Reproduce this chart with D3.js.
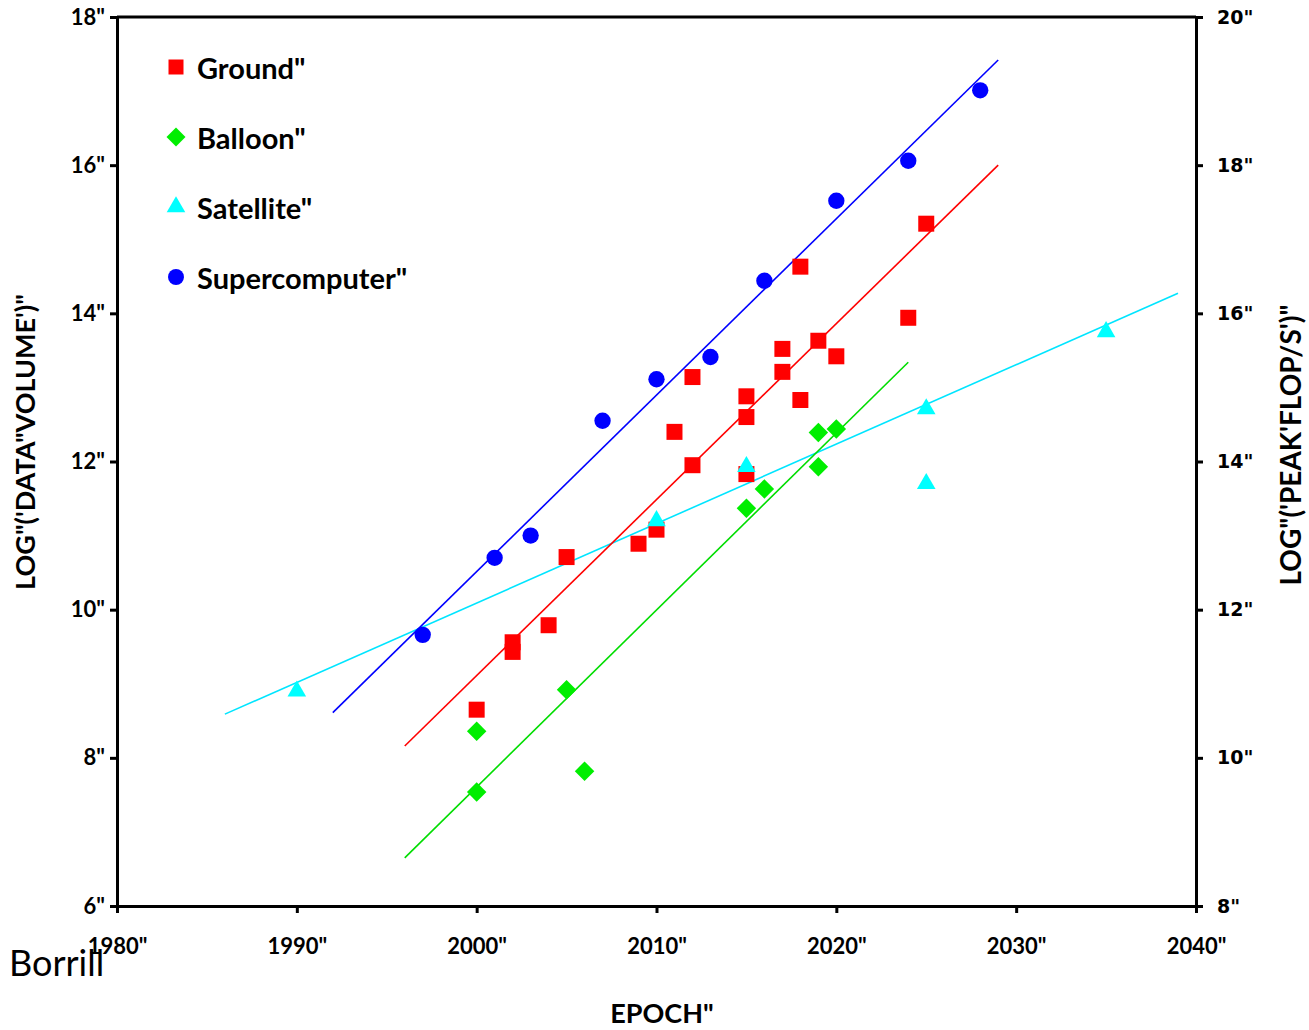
<!DOCTYPE html>
<html><head><meta charset="utf-8">
<script src="https://cdn.jsdelivr.net/npm/d3@7"></script>
<style>
body{margin:0;background:#fff;}
text{font-family:Lato,"Open Sans",sans-serif;}
</style></head>
<body><svg id="c" width="1309" height="1030"></svg>
<script>
// ---- data ----
const xTicks = [1980,1990,2000,2010,2020,2030,2040];
const yLeftTicks = [6,8,10,12,14,16,18];
const yRightTicks = [8,10,12,14,16,18,20];
const seriesNames = ["Ground","Balloon","Satellite","Supercomputer"];

const groundYears  = [2000,2002,2002,2004,2005,2009,2010,2011,2012,2012,2015,2015,2015,2017,2017,2018,2018,2019,2020,2024,2025];
const groundValues = [8.65,9.56,9.43,9.79,10.71,10.89,11.08,12.40,11.95,13.14,11.83,12.60,12.88,13.21,13.52,12.83,14.63,13.63,13.42,13.94,15.21];
const groundFitYears = [1996,2029];
const groundFitValues = [8.16,16.0];

const balloonYears  = [2000,2000,2005,2006,2015,2016,2019,2019,2020];
const balloonValues = [8.36,7.54,8.92,7.82,11.37,11.63,11.93,12.39,12.44];
const balloonFitYears = [1996,2024];
const balloonFitValues = [6.65,13.34];

const satelliteYears  = [1990,2010,2015,2025,2025,2035];
const satelliteValues = [8.90,11.20,11.93,12.71,11.70,13.75];
const satelliteFitYears = [1986,2039];
const satelliteFitValues = [8.59,14.27];

// supercomputer on right axis (log peak flop/s)
const superYears  = [1997,2001,2003,2007,2010,2013,2016,2020,2024,2028];
const superValues = [11.66,12.70,13.00,14.55,15.11,15.41,16.44,17.52,18.06,19.01];
const superFitYears = [1992,2029];
const superFitValues = [10.61,19.42];

// ---- layout ----
const svg = d3.select("#c");
const L=117, R=1196, T=17, B=906;
const x = d3.scaleLinear().domain([1980,2040]).range([L,R]);
const yL = d3.scaleLinear().domain([6,18]).range([B,T]);
const yR = d3.scaleLinear().domain([8,20]).range([B,T]);

const colors = {Ground:"#ff0000",Balloon:"#00ee00",Satellite:"#00ffff",Supercomputer:"#0000ff"};
const lineColors = {Ground:"#ff0000",Balloon:"#00dd00",Satellite:"#00e5ff",Supercomputer:"#0000ff"};

// top border
svg.append("line").attr("x1",L).attr("x2",R).attr("y1",T).attr("y2",T).attr("stroke","#000").attr("stroke-width",3);

function styleAxis(g,fontFamily,size){
  g.select(".domain").attr("stroke","#000").attr("stroke-width",3);
  g.selectAll(".tick line").attr("stroke","#000").attr("stroke-width",3);
  g.selectAll(".tick text").attr("fill","#000").style("font-family",fontFamily).style("font-size",size+"px").style("font-weight","700");
}
const fmtQ = d => d + '"';

const gx = svg.append("g").attr("transform",`translate(0,${B})`)
  .call(d3.axisBottom(x).tickValues(xTicks).tickFormat(fmtQ).tickSize(7).tickSizeOuter(0).tickPadding(25));
styleAxis(gx,"Lato",22);

const gl = svg.append("g").attr("transform",`translate(${L},0)`)
  .call(d3.axisLeft(yL).tickValues(yLeftTicks).tickFormat(fmtQ).tickSize(7).tickSizeOuter(0).tickPadding(5));
styleAxis(gl,"Lato",22);

const gr = svg.append("g").attr("transform",`translate(${R},0)`)
  .call(d3.axisRight(yR).tickValues(yRightTicks).tickFormat(fmtQ).tickSize(7).tickSizeOuter(0).tickPadding(14));
styleAxis(gr,"'DejaVu Sans'",19);

// fit lines
const line = (ys) => d3.line().x(d=>x(d[0])).y(d=>ys(d[1]));
function fit(years,vals,ys,name){
  svg.append("path").datum(years.map((yr,i)=>[yr,vals[i]]))
    .attr("d",line(ys)).attr("fill","none").attr("stroke",lineColors[name]).attr("stroke-width",1.6);
}
fit(satelliteFitYears,satelliteFitValues,yL,"Satellite");
fit(balloonFitYears,balloonFitValues,yL,"Balloon");
fit(groundFitYears,groundFitValues,yL,"Ground");
fit(superFitYears,superFitValues,yR,"Supercomputer");

const shapes = {Ground:d3.symbolSquare,Balloon:d3.symbolSquare,Satellite:d3.symbolTriangle,Supercomputer:d3.symbolCircle};
const rot = {Ground:0,Balloon:45,Satellite:0,Supercomputer:0};
const sizes = {Ground:256,Balloon:190,Satellite:150,Supercomputer:210};
function pts(years,vals,ys,name){
  svg.append("g").selectAll("path").data(years.map((yr,i)=>[yr,vals[i]])).join("path")
    .attr("d",d3.symbol().type(shapes[name]).size(sizes[name]))
    .attr("transform",d=>`translate(${x(d[0])},${ys(d[1])}) rotate(${rot[name]})`)
    .attr("fill",colors[name]);
}
pts(groundYears,groundValues,yL,"Ground");
pts(balloonYears,balloonValues,yL,"Balloon");
pts(satelliteYears,satelliteValues,yL,"Satellite");
pts(superYears,superValues,yR,"Supercomputer");

// legend
const legendSizes = {Ground:225,Balloon:180,Satellite:150,Supercomputer:200};
const lg = svg.append("g");
seriesNames.forEach((n,i)=>{
  const cy = 67 + i*70;
  lg.append("path").attr("d",d3.symbol().type(shapes[n]).size(legendSizes[n]))
    .attr("transform",`translate(176,${cy}) rotate(${rot[n]})`).attr("fill",colors[n]);
  lg.append("text").attr("x",197).attr("y",cy+12).text(n+'"')
    .style("font-size","29px").style("font-weight","700").attr("fill","#000");
});

// axis titles
svg.append("text").attr("transform","translate(35,442) rotate(-90)").attr("text-anchor","middle")
  .text(`LOG"('DATA"VOLUME')"`).style("font-size","27px").style("font-weight","700");
svg.append("text").attr("transform","translate(1301,445) rotate(-90)").attr("text-anchor","middle")
  .text(`LOG"('PEAK'FLOP/S')"`).style("font-size","28px").style("font-weight","700");
svg.append("text").attr("x",662).attr("y",1023).attr("text-anchor","middle")
  .text('EPOCH"').style("font-size","27px").style("font-weight","700");
svg.append("text").attr("x",9).attr("y",976)
  .text("Borrill").style("font-size","36px").style("font-weight","400");
</script></body></html>
